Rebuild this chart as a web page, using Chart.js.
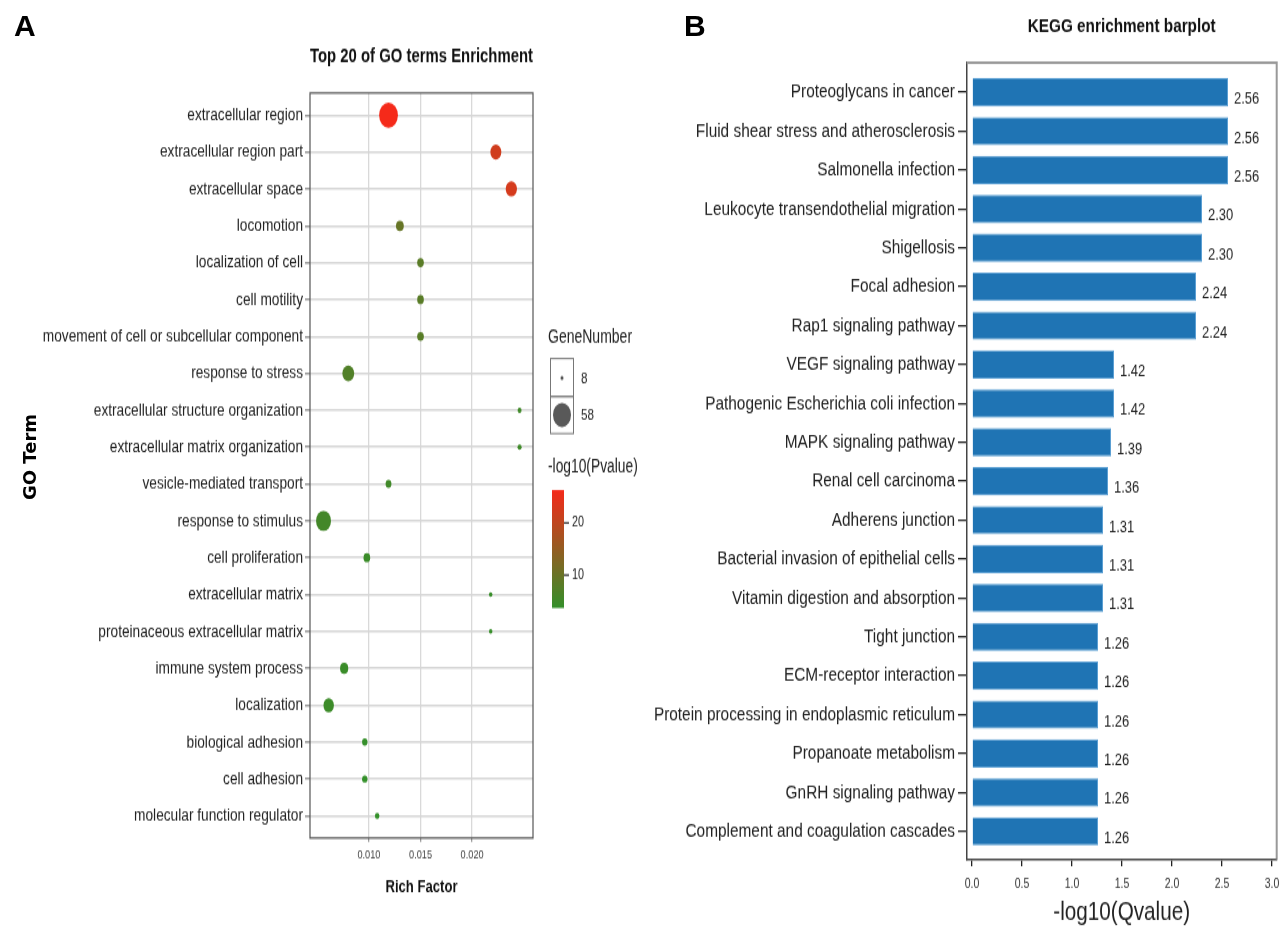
<!DOCTYPE html>
<html>
<head>
<meta charset="utf-8">
<title>GO / KEGG enrichment</title>
<script src="https://cdn.jsdelivr.net/npm/chart.js@4.4.1/dist/chart.umd.min.js"></script>
<style>
  body { margin: 0; background: #fff; }
  #wrap { position: relative; width: 1280px; height: 934px; overflow: hidden; }
  .stretch { position: absolute; top: 0; width: 640px; transform-origin: 0 0; }
  .tag { position: absolute; top: 9px; font: bold 30px 'Liberation Sans', Arial, sans-serif; color: #000; }
  #goTitle { position: absolute; left: 29px; top: 457px; transform: translate(-50%, -50%) rotate(-90deg);
             white-space: nowrap; line-height: 1; font: bold 18px 'DejaVu Sans', sans-serif; color: #000; }
</style>
</head>
<body>
<div id="wrap">
  <div id="wrapA" class="stretch" style="left:0"><canvas id="goChart"></canvas></div>
  <div id="wrapB" class="stretch" style="left:640px"><canvas id="keggChart"></canvas></div>
  <div class="tag" style="left:14px">A</div>
  <div class="tag" style="left:684px">B</div>
  <div id="goTitle">GO Term</div>
</div>
<script>
// ---- panel A data: GO terms ----
const goTerms = [
  "extracellular region", "extracellular region part", "extracellular space", "locomotion",
  "localization of cell", "cell motility", "movement of cell or subcellular component",
  "response to stress", "extracellular structure organization", "extracellular matrix organization",
  "vesicle-mediated transport", "response to stimulus", "cell proliferation", "extracellular matrix",
  "proteinaceous extracellular matrix", "immune system process", "localization",
  "biological adhesion", "cell adhesion", "molecular function regulator"
];
const richFactor = [0.0119, 0.0223, 0.0238, 0.0130, 0.0150, 0.0150, 0.0150, 0.0080, 0.0246, 0.0246,
                    0.0119, 0.0056, 0.0098, 0.0218, 0.0218, 0.0076, 0.0061, 0.0096, 0.0096, 0.0108];
const geneNumber = [62, 29, 30, 19, 16, 16, 16, 32, 10, 10, 14, 44, 16, 9, 9, 20, 27, 13, 13, 11];
const negLogP    = [26.3, 22.0, 22.6, 9.6, 8.2, 8.1, 8.0, 7.2, 5.2, 5.1,
                    5.3, 5.6, 4.6, 4.3, 4.2, 4.5, 4.8, 3.9, 3.8, 3.7];
const richTicks = [0.010, 0.015, 0.020];
const geneLegend = [8, 58];
const pLegendTicks = [10, 20];

// ---- panel B data: KEGG pathways ----
const keggPathways = [
  "Proteoglycans in cancer", "Fluid shear stress and atherosclerosis", "Salmonella infection",
  "Leukocyte transendothelial migration", "Shigellosis", "Focal adhesion", "Rap1 signaling pathway",
  "VEGF signaling pathway", "Pathogenic Escherichia coli infection", "MAPK signaling pathway",
  "Renal cell carcinoma", "Adherens junction", "Bacterial invasion of epithelial cells",
  "Vitamin digestion and absorption", "Tight junction", "ECM-receptor interaction",
  "Protein processing in endoplasmic reticulum", "Propanoate metabolism", "GnRH signaling pathway",
  "Complement and coagulation cascades"
];
const negLogQ = [2.56, 2.56, 2.56, 2.30, 2.30, 2.24, 2.24, 1.42, 1.42, 1.39,
                 1.36, 1.31, 1.31, 1.31, 1.26, 1.26, 1.26, 1.26, 1.26, 1.26];
const qTicks = [0, 0.5, 1.0, 1.5, 2.0, 2.5, 3.0];

const FONT = "'Liberation Sans', Arial, sans-serif";
Chart.defaults.font.family = FONT;

// the figure is drawn squashed and stretched back vertically (tall, narrow look of the original)
const HA = 692, SA = 934 / HA;
const HB = 730, SB = 934 / HB;
const ya = v => v / SA;
const yb = v => v / SB;
function setupCanvas(id, wrapId, h, s) {
  const c = document.getElementById(id);
  c.width = 640; c.height = h;
  c.style.width = '640px'; c.style.height = h + 'px';
  const w = document.getElementById(wrapId);
  w.style.height = h + 'px';
  w.style.transform = `scaleY(${s})`;
  return c;
}

// size scale for GeneNumber (diameter linear in sqrt of count)
function bubbleWidth(n) {
  const a = Math.sqrt(geneLegend[0]), b = Math.sqrt(geneLegend[1]);
  return 3 + 15 * (Math.sqrt(n) - a) / (b - a);
}

// colour scale for -log10(Pvalue)
const pMin = Math.min(...negLogP), pMax = Math.max(...negLogP);
const lowRGB = [51, 144, 42], highRGB = [245, 42, 26];
function pColor(v) {
  const t = (v - pMin) / (pMax - pMin);
  const c = lowRGB.map((lo, k) => Math.round(lo + (highRGB[k] - lo) * t));
  return `rgb(${c[0]},${c[1]},${c[2]})`;
}

// frame + legends for panel A
const goDecor = {
  id: 'goDecor',
  afterDraw(chart) {
    const { ctx, chartArea: a } = chart;
    ctx.save();
    ctx.strokeStyle = '#555';
    ctx.lineWidth = 1.2;
    ctx.strokeRect(a.left, a.top, a.right - a.left, a.bottom - a.top);

    ctx.fillStyle = '#222';
    ctx.textBaseline = 'middle';
    ctx.textAlign = 'left';
    ctx.font = `14px ${FONT}`;
    ctx.fillText('GeneNumber', 548, ya(337));

    // size legend
    ctx.strokeStyle = '#777';
    ctx.lineWidth = 1;
    ctx.strokeRect(550.5, ya(358.5), 23, ya(396.5) - ya(358.5));
    ctx.strokeRect(550.5, ya(396.5), 23, ya(433.5) - ya(396.5));
    const symY = [378, 415];
    geneLegend.forEach((n, k) => {
      ctx.fillStyle = '#595959';
      ctx.beginPath();
      ctx.arc(562, ya(symY[k]), bubbleWidth(n) / 2, 0, Math.PI * 2);
      ctx.fill();
      ctx.fillStyle = '#222';
      ctx.font = `11.7px ${FONT}`;
      ctx.fillText(String(n), 581, ya(symY[k] + 1));
    });

    // colour bar
    ctx.font = `13.8px ${FONT}`;
    ctx.fillText('-log10(Pvalue)', 548, ya(467));
    const top = ya(490), bottom = ya(608), x0 = 552, x1 = 564;
    const grad = ctx.createLinearGradient(0, bottom, 0, top);
    grad.addColorStop(0, pColor(pMin));
    grad.addColorStop(1, pColor(pMax));
    ctx.fillStyle = grad;
    ctx.fillRect(x0, top, x1 - x0, bottom - top);
    ctx.strokeStyle = '#333';
    ctx.lineWidth = 1.3;
    ctx.font = `10.8px ${FONT}`;
    pLegendTicks.forEach(v => {
      const y = bottom - (v - pMin) / (pMax - pMin) * (bottom - top);
      ctx.beginPath();
      ctx.moveTo(x1, y);
      ctx.lineTo(x1 + 5, y);
      ctx.stroke();
      ctx.fillStyle = '#222';
      ctx.fillText(String(v), 572, y);
    });
    ctx.restore();
  }
};

const titleA = { size: 15.3, lh: 15.3 * 1.2 };
const xTitleA = { size: 13.1, lh: 13.1 * 1.2 };

new Chart(setupCanvas('goChart', 'wrapA', HA, SA), {
  type: 'bubble',
  data: {
    datasets: [{
      data: goTerms.map((t, i) => ({ x: richFactor[i], y: i, r: bubbleWidth(geneNumber[i]) / 2 })),
      backgroundColor: ctx => pColor(negLogP[ctx.dataIndex]),
      borderWidth: 0
    }]
  },
  options: {
    responsive: false,
    animation: false,
    devicePixelRatio: 1,
    layout: { padding: { top: 0, right: 107, bottom: 0, left: 0 } },
    plugins: {
      legend: { display: false },
      tooltip: { enabled: false },
      title: {
        display: true, text: 'Top 20 of GO terms Enrichment', fullSize: false, color: '#111',
        font: { size: titleA.size, weight: 'bold', lineHeight: 1.2 },
        padding: { top: ya(57) - titleA.lh / 2, bottom: ya(93) - ya(57) - titleA.lh / 2 }
      }
    },
    scales: {
      x: {
        type: 'linear', min: 0.00429, max: 0.0259,
        afterBuildTicks: s => { s.ticks = richTicks.map(v => ({ value: v })); },
        afterFit: s => { s.height = HA - ya(838); },
        grid: { color: '#d9d9d9', lineWidth: 1.3, tickLength: 3, tickColor: '#999' },
        border: { display: false },
        ticks: { color: '#444', font: { size: 9.2 }, padding: 4, callback: v => v.toFixed(3) },
        title: {
          display: true, text: 'Rich Factor', color: '#111',
          font: { size: xTitleA.size, weight: 'bold', lineHeight: 1.2 },
          padding: { top: 0, bottom: HA - ya(887) - xTitleA.lh / 2 }
        }
      },
      y: {
        type: 'linear', reverse: true, min: -0.6, max: 19.6,
        afterBuildTicks: s => { s.ticks = goTerms.map((_, i) => ({ value: i })); },
        afterFit: s => { s.width = 310; },
        grid: { color: '#d6d6d6', lineWidth: 1.5, tickLength: 5, tickColor: '#999' },
        border: { display: false },
        ticks: { autoSkip: false, color: '#222', font: { size: 13.7 }, padding: 2, callback: v => goTerms[v] }
      }
    }
  },
  plugins: [goDecor]
});

// frame + value labels for panel B
const keggDecor = {
  id: 'keggDecor',
  afterDraw(chart) {
    const { ctx, chartArea: a } = chart;
    ctx.save();
    ctx.strokeStyle = '#999';
    ctx.lineWidth = 2;
    ctx.beginPath();
    ctx.moveTo(a.left, a.top);
    ctx.lineTo(a.right, a.top);
    ctx.lineTo(a.right, a.bottom);
    ctx.stroke();

    ctx.fillStyle = '#222';
    ctx.font = `13px ${FONT}`;
    ctx.textAlign = 'left';
    ctx.textBaseline = 'middle';
    chart.getDatasetMeta(0).data.forEach((bar, i) => {
      ctx.fillText(negLogQ[i].toFixed(2), bar.x + 6, bar.y + yb(7));
    });
    ctx.restore();
  }
};

const titleB = { size: 15.3, lh: 15.3 * 1.2 };
const xTitleB = { size: 20.7, lh: 20.7 * 1.2 };

new Chart(setupCanvas('keggChart', 'wrapB', HB, SB), {
  type: 'bar',
  data: {
    datasets: [{
      data: keggPathways.map((p, i) => ({ x: negLogQ[i], y: i })),
      backgroundColor: '#1f74b4',
      borderColor: '#5b9fd3',
      borderWidth: 1,
      barPercentage: 0.73,
      categoryPercentage: 1
    }]
  },
  options: {
    indexAxis: 'y',
    responsive: false,
    animation: false,
    devicePixelRatio: 1,
    layout: { padding: { top: 0, right: 3.3, bottom: 0, left: 0 } },
    plugins: {
      legend: { display: false },
      tooltip: { enabled: false },
      title: {
        display: true, text: 'KEGG enrichment barplot', fullSize: false, color: '#111',
        font: { size: titleB.size, weight: 'bold', lineHeight: 1.2 },
        padding: { top: yb(27) - titleB.lh / 2, bottom: yb(62.7) - yb(27) - titleB.lh / 2 }
      }
    },
    scales: {
      x: {
        type: 'linear', min: -0.053, max: 3.047,
        afterBuildTicks: s => { s.ticks = qTicks.map(v => ({ value: v })); },
        afterFit: s => { s.height = HB - yb(859.3); s.paddingLeft = 0; s.paddingRight = 0; },
        grid: { drawOnChartArea: false, tickLength: yb(7), tickColor: '#222', lineWidth: 1.3 },
        border: { color: '#444', width: 1.5 },
        ticks: { color: '#333', font: { size: 10.5 }, padding: 7.8, callback: v => v.toFixed(1) },
        title: {
          display: true, text: '-log10(Qvalue)', color: '#222',
          font: { size: xTitleB.size, lineHeight: 1.2 },
          padding: { top: 0, bottom: HB - yb(913) - xTitleB.lh / 2 }
        }
      },
      y: {
        type: 'linear', reverse: true, min: -0.76, max: 19.72, offset: false,
        afterBuildTicks: s => { s.ticks = keggPathways.map((_, i) => ({ value: i })); },
        afterFit: s => { s.width = 326.7; },
        grid: { offset: false, drawOnChartArea: false, tickLength: 8.7, tickColor: '#222', lineWidth: 1.3 },
        border: { color: '#444', width: 1.5 },
        ticks: { autoSkip: false, color: '#222', font: { size: 15.4 }, padding: 3, callback: v => keggPathways[v] }
      }
    }
  },
  plugins: [keggDecor]
});
</script>
</body>
</html>
